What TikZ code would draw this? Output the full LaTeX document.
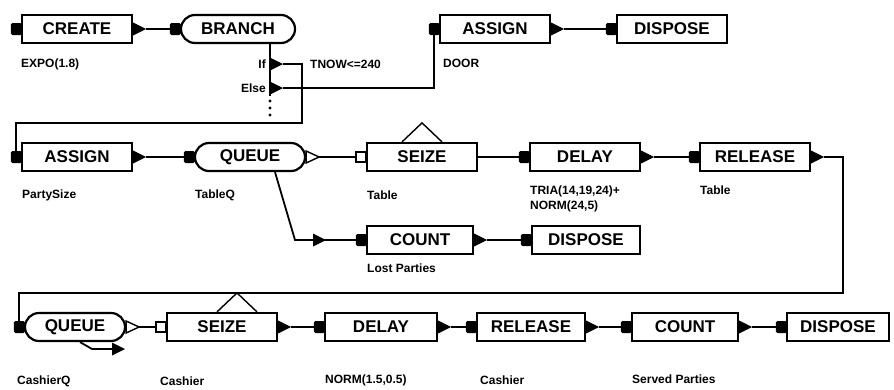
\documentclass[tikz,border=0pt]{standalone}
\usepackage{fontspec}
\setmainfont{Liberation Sans}

\tikzset{
  blk/.style={draw, line width=2.2pt, minimum width=110pt, minimum height=28pt,
    inner sep=0pt, font=\fontsize{17}{17}\selectfont\bfseries},
  qblk/.style={blk, rounded corners=14pt},
  lbl/.style={anchor=west, inner sep=0pt, font=\fontsize{12}{12}\selectfont\bfseries},
  conn/.style={line width=1.8pt},
}

% ports of a block
\newcommand{\tri}[1]{\fill ([yshift=6.5pt]#1) -- ([xshift=13pt]#1) -- ([yshift=-6.5pt]#1) -- cycle;}
\newcommand{\inport}[1]{%
  \coordinate (#1-in) at ([xshift=-10pt]#1.west);
  \fill[rounded corners=1.5pt] ([xshift=-10pt,yshift=-6pt]#1.west) rectangle ([xshift=1pt,yshift=6pt]#1.west);}
\newcommand{\outport}[1]{%
  \coordinate (#1-out) at ([xshift=13pt]#1.east);
  \tri{#1.east}}
\newcommand{\qoutport}[1]{%
  \coordinate (#1-out) at ([xshift=13pt]#1.east);
  \draw[line width=1.4pt, fill=white] ([yshift=6pt]#1.east) -- (#1-out) -- ([yshift=-6pt]#1.east) -- cycle;}
\newcommand{\sinport}[1]{%
  \coordinate (#1-in) at ([xshift=-10pt]#1.west);
  \draw[line width=1.4pt, fill=white] ([xshift=-10pt,yshift=-5pt]#1.west) rectangle ([yshift=5pt]#1.west);}
\newcommand{\roof}[2]{\draw[line width=1.4pt] ([xshift=#2-20pt]#1.north) -- ([xshift=#2, yshift=19pt]#1.north) -- ([xshift=#2+20pt]#1.north);}

\begin{document}
\begin{tikzpicture}[x=1pt, y=-1pt]
\useasboundingbox (0,0) rectangle (894,389);

% arrivals and the door
\node[blk] (create) at (77,29) {CREATE};
\node[qblk, minimum width=114pt] (branch) at (238,29) {BRANCH};
\node[blk] (door) at (495,29) {ASSIGN};
\node[blk] (doorOut) at (672,29) {DISPOSE};

% tables
\node[blk] (partySize) at (77,157) {ASSIGN};
\node[qblk] (tableQ) at (250,157) {QUEUE};
\node[blk] (seizeT) at (422,157) {SEIZE};
\node[blk] (delayT) at (585,157) {DELAY};
\node[blk] (releaseT) at (755,157) {RELEASE};
\node[blk, minimum width=106pt] (countL) at (420,240) {COUNT};
\node[blk, minimum width=108pt] (disposeL) at (586,240) {DISPOSE};

% cashier
\node[qblk, minimum width=100pt] (cashQ) at (75,327) {QUEUE};
\node[blk] (seizeC) at (222,327) {SEIZE};
\node[blk, minimum width=112pt] (delayC) at (381,327) {DELAY};
\node[blk, minimum width=108pt] (releaseC) at (531,327) {RELEASE};
\node[blk, minimum width=106pt] (countS) at (685,327) {COUNT};
\node[blk, minimum width=102pt] (disposeS) at (838,327) {DISPOSE};

% labels
\node[lbl] (lExpo) at (21,64) {EXPO(1.8)};
\node[lbl] (lDoor) at (443,63) {DOOR};
\node[lbl] (lTnow) at (310,64) {TNOW<=240};
\node[lbl, anchor=east] (lIf) at (266,64) {If};
\node[lbl, anchor=east] (lElse) at (266,88) {Else};
\node[lbl] (lParty) at (22,195) {PartySize};
\node[lbl] (lTableQ) at (195,195) {TableQ};
\node[lbl] (lTable) at (367,195) {Table};
\node[lbl] (lTria) at (530,191) {TRIA(14,19,24)+};
\node[lbl] (lNorm) at (530,206) {NORM(24,5)};
\node[lbl] (lTableR) at (700,190) {Table};
\node[lbl] (lLost) at (367,268) {Lost Parties};
\node[lbl] (lCashQ) at (17,381) {CashierQ};
\node[lbl] (lCashS) at (160,381) {Cashier};
\node[lbl] (lNormC) at (325,380) {NORM(1.5,0.5)};
\node[lbl] (lCashR) at (480,380) {Cashier};
\node[lbl] (lServed) at (632,379) {Served Parties};

% ports
\inport{create} \outport{create}
\inport{branch}
\inport{door} \outport{door}
\inport{doorOut}
\inport{partySize} \outport{partySize}
\inport{tableQ} \qoutport{tableQ}
\sinport{seizeT} \roof{seizeT}{0pt}
\inport{delayT} \outport{delayT}
\inport{releaseT} \outport{releaseT}
\inport{countL} \outport{countL}
\inport{disposeL}
\inport{cashQ} \qoutport{cashQ}
\sinport{seizeC} \outport{seizeC} \roof{seizeC}{15pt}
\inport{delayC} \outport{delayC}
\inport{releaseC} \outport{releaseC}
\inport{countS} \outport{countS}
\inport{disposeS}

% branch exits
\coordinate (brIf) at (270,64);
\coordinate (brElse) at (270,88);
\coordinate (brEnd) at (270,96);
\draw[conn] ([xshift=32pt]branch.south) -- (brEnd);
\tri{brIf} \tri{brElse}
\foreach \y in {101,108,115} \fill (270,\y) circle (1.6pt);

% connectors
\coordinate (ifTurn) at (302,123);
\draw[conn] (create-out) -- (branch-in);
\draw[conn] ([xshift=13pt]brIf) -| (ifTurn) -| ([xshift=-5pt]partySize.west);
\draw[conn] ([xshift=13pt]brElse) -| ([xshift=-5pt]door.west);
\draw[conn] (door-out) -- (doorOut-in);

\draw[conn] (partySize-out) -- (tableQ-in);
\draw[conn] (tableQ-out) -- (seizeT-in);
\draw[conn] (seizeT.east) -- (delayT-in);
\draw[conn] (delayT-out) -- (releaseT-in);

\coordinate (balkT) at (295,240);
\draw[conn] ([xshift=25pt]tableQ.south) -- (balkT) -- (countL-in);
\tri{313,240}
\draw[conn] (countL-out) -- (disposeL-in);

\coordinate (relTurn) at (843,293);
\draw[conn] (releaseT-out) -| (relTurn) -| ([xshift=-5pt]cashQ.west);

\draw[conn] (cashQ-out) -- (seizeC-in);
\draw[conn] (seizeC-out) -- (delayC-in);
\draw[conn] (delayC-out) -- (releaseC-in);
\draw[conn] (releaseC-out) -- (countS-in);
\draw[conn] (countS-out) -- (disposeS-in);

\coordinate (balkC) at (92,349);
\coordinate (balkEnd) at (112,349);
\draw[conn] ([xshift=5pt]cashQ.south) -- (balkC) -- (balkEnd);
\tri{balkEnd}

\end{tikzpicture}
\end{document}
